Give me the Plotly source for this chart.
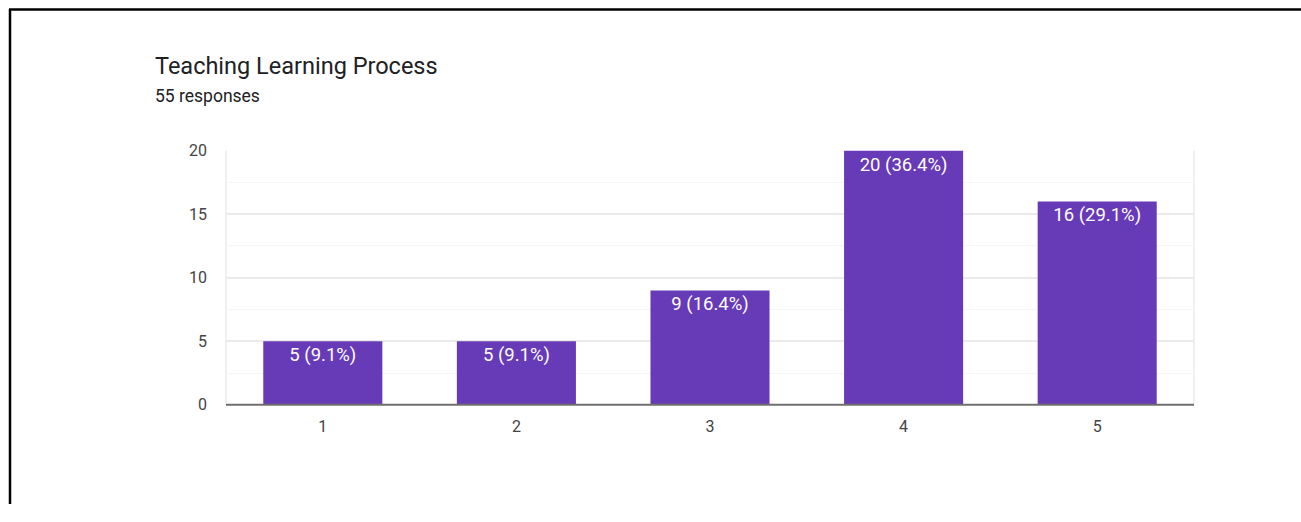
import plotly.graph_objects as go

categories = ["1", "2", "3", "4", "5"]
counts = [5, 5, 9, 20, 16]
labels = ["5 (9.1%)", "5 (9.1%)", "9 (16.4%)", "20 (36.4%)", "16 (29.1%)"]
y_ticks = [0, 5, 10, 15, 20]
title_text = "Teaching Learning Process"
subtitle_text = "55 responses"

# page offset compensation: content appears to start 8px down the page
OFF = 8
W, H = 1301, 522 - OFF
x0, x1 = 226, 1194
y_top, y_bot = 155 - OFF, 419 - OFF

def py(y):
    return 1 - y / H

fig = go.Figure()
fig.add_trace(go.Bar(
    x=categories, y=counts, text=labels,
    textposition="inside", insidetextanchor="end",
    textfont=dict(family="Roboto", size=18.5, color="#ffffff"),
    marker=dict(color="#673ab7", line=dict(width=0)),
    width=0.615, cliponaxis=False, hoverinfo="skip",
))

fig.update_layout(
    width=W, height=H,
    margin=dict(l=0, r=0, t=0, b=0),
    paper_bgcolor="white", plot_bgcolor="white",
    showlegend=False,
    uniformtext=dict(minsize=18, mode="show"),
    xaxis=dict(domain=[x0 / W, x1 / W], type="category",
               showgrid=False, showline=False, zeroline=False,
               ticks="", tickfont=dict(family="Roboto", size=16, color="#444444"),
               ticklabelstandoff=10, fixedrange=True),
    yaxis=dict(domain=[py(y_bot), py(y_top)], range=[0, 20],
               tickvals=y_ticks, showgrid=True, gridcolor="#ebebeb", gridwidth=1.5,
               minor=dict(dtick=2.5, showgrid=True, gridcolor="#f5f5f5", gridwidth=1),
               zeroline=False, showline=False, ticks="",
               tickfont=dict(family="Roboto", size=16, color="#444444"),
               ticklabelstandoff=18, fixedrange=True),
    font=dict(family="Roboto"),
)

shapes = []
shapes.append(dict(type="line", xref="paper", yref="paper", x0=x0 / W, x1=x0 / W,
                   y0=py(y_bot), y1=py(y_top), line=dict(color="#ebebeb", width=1.5), layer="below"))
shapes.append(dict(type="line", xref="paper", yref="paper", x0=x1 / W, x1=x1 / W,
                   y0=py(y_bot), y1=py(y_top), line=dict(color="#ebebeb", width=1.5), layer="below"))
shapes.append(dict(type="line", xref="paper", yref="paper", x0=x0 / W, x1=x1 / W,
                   y0=py(y_bot), y1=py(y_bot), line=dict(color="#6f6f6f", width=2)))
# black page border (top and left)
shapes.append(dict(type="line", xref="paper", yref="paper", x0=9 / W, x1=1.0,
                   y0=py(0.5), y1=py(0.5), line=dict(color="#000000", width=2.5)))
shapes.append(dict(type="line", xref="paper", yref="paper", x0=10 / W, x1=10 / W,
                   y0=0, y1=1.0, line=dict(color="#000000", width=2.5)))
fig.update_layout(shapes=shapes)

fig.add_annotation(text=title_text, xref="paper", yref="paper", x=153 / W, y=py(67 - OFF),
                   xanchor="left", yanchor="middle", showarrow=False,
                   font=dict(family="Roboto", size=23.5, color="#202124"))
fig.add_annotation(text=subtitle_text, xref="paper", yref="paper", x=153 / W, y=py(98 - OFF),
                   xanchor="left", yanchor="middle", showarrow=False,
                   font=dict(family="Roboto", size=17.5, color="#202124"))

fig.write_html("out.html")
